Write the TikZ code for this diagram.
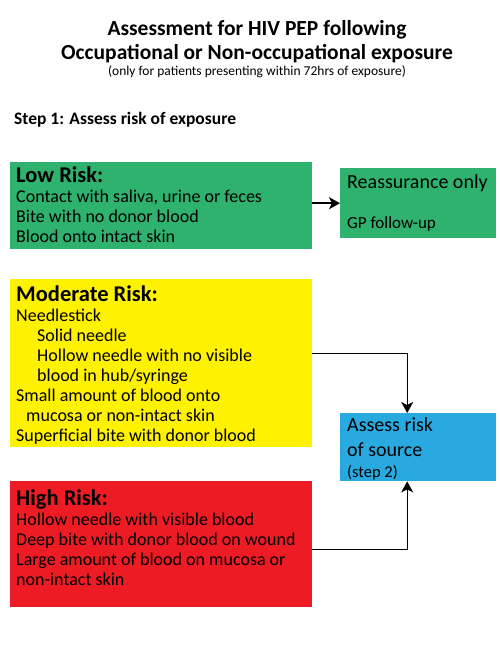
\documentclass[tikz,border=0pt]{standalone}
\usepackage{fontspec}
\setmainfont{Carlito}
\setsansfont{Carlito}
\usetikzlibrary{positioning,arrows.meta}
\definecolor{lowgreen}{RGB}{46,178,110}
\definecolor{modyellow}{RGB}{255,242,0}
\definecolor{highred}{RGB}{237,28,36}
\definecolor{srcblue}{RGB}{40,170,225}
\newcommand{\riskhead}[1]{{\fontsize{22.5}{20}\selectfont\bfseries #1}}
\tikzset{
  flow/.style={-{Stealth[length=11pt,width=12pt,inset=3pt]}, line width=1.6pt, draw=black},
  riskbox/.style={anchor=north west, inner sep=0pt, minimum width=302pt},
  resultbox/.style={anchor=north west, inner sep=0pt, minimum width=156pt},
  boxtext/.style={anchor=north west, inner sep=0pt, align=left,
    font=\fontsize{18}{20}\selectfont},
  title/.style={font=\fontsize{21.5}{24}\selectfont\bfseries, align=center},
  subtitle/.style={font=\fontsize{13.5}{16}\selectfont},
  steplabel/.style={font=\fontsize{17.5}{18}\selectfont\bfseries, anchor=west,
    inner sep=0pt}
}

\begin{document}
\begin{tikzpicture}[x=1pt, y=-1pt, font=\sffamily]
  \useasboundingbox (0,0) rectangle (500,667);
  \fill[white] (0,0) rectangle (500,667);

  \node[title] (title) at (257,42)
    {Assessment for HIV PEP following\\Occupational or Non-occupational exposure};
  \node[subtitle] (subtitle) at (257,72)
    {(only for patients presenting within 72hrs of exposure)};
  \node[steplabel] (step) at (14,120) {Step 1: Assess risk of exposure};

  % risk boxes
  \node[riskbox, fill=lowgreen, minimum height=87pt] (lowbox) at (10,162) {};
  \node[riskbox, fill=modyellow, minimum height=168pt] (modbox) at (10,279) {};
  \node[riskbox, fill=highred, minimum height=126pt] (highbox) at (10,481) {};

  \node[boxtext] (lowtext) at (16,167)
    {\riskhead{Low Risk:}\\
     Contact with saliva, urine or feces\\
     Bite with no donor blood\\
     Blood onto intact skin};
  \node[boxtext] (modtext) at (16,286)
    {\riskhead{Moderate Risk:}\\
     Needlestick\\
     \hspace*{21pt}Solid needle\\
     \hspace*{21pt}Hollow needle with no visible\\
     \hspace*{21pt}blood in hub/syringe\\
     Small amount of blood onto\\
     \hspace*{10pt}mucosa or non-intact skin\\
     Superficial bite with donor blood};
  \node[boxtext] (hightext) at (16,490)
    {\riskhead{High Risk:}\\
     Hollow needle with visible blood\\
     Deep bite with donor blood on wound\\
     Large amount of blood on mucosa or\\
     non-intact skin};

  % outcome boxes
  \node[resultbox, fill=lowgreen, minimum height=70pt] (reassure) at (340,168) {};
  \node[anchor=north west, inner sep=0pt, font=\fontsize{20}{24}\selectfont]
    (reassuretext) at (347,174) {Reassurance only};
  \node[anchor=north west, inner sep=0pt, font=\fontsize{17}{20}\selectfont]
    (gptext) at (347,216) {GP follow-up};

  \node[resultbox, fill=srcblue, minimum height=68pt] (srcbox) at (340,413) {};
  \node[anchor=north west, inner sep=0pt, align=left,
    font=\fontsize{20}{25}\selectfont] (srctext) at (347,417)
    {Assess risk\\of source};
  \node[anchor=north west, inner sep=0pt, font=\fontsize{16.5}{18}\selectfont]
    (steptwo) at (347,465) {(step 2)};

  \draw[flow] (lowbox.east |- reassure.west) -- (reassure.west);
  \draw[flow, line width=1.3pt] ([yshift=10pt]modbox.east) -| ([xshift=-11pt]srcbox.north);
  \draw[flow, line width=1.3pt] ([yshift=-5pt]highbox.east) -| ([xshift=-11pt]srcbox.south);
\end{tikzpicture}
\end{document}
